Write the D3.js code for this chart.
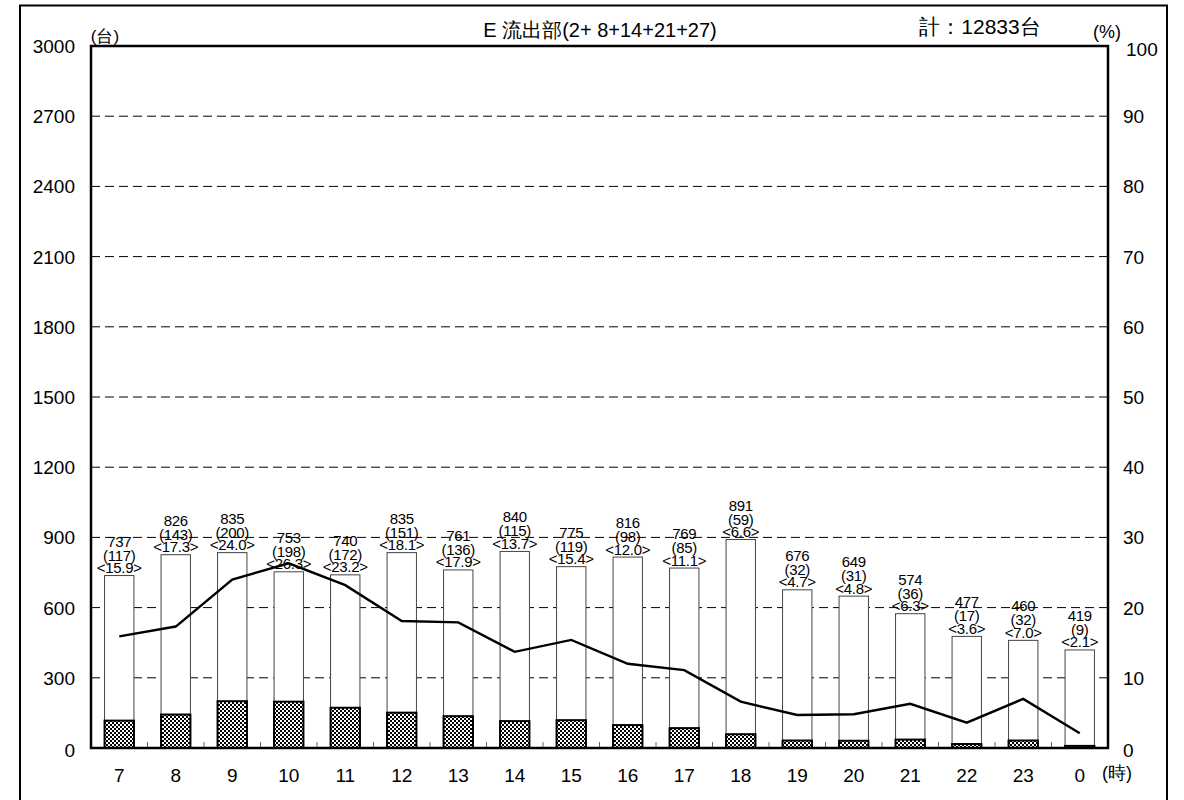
<!DOCTYPE html>
<html><head><meta charset="utf-8">
<script src="https://cdn.jsdelivr.net/npm/d3@7"></script>
<style>body{margin:0;background:#fff}svg{display:block}text{font-family:"Liberation Sans",Arial,sans-serif;fill:#000}</style>
</head><body><svg id="c" width="1184" height="800"></svg>
<script>
const hours = ["7","8","9","10","11","12","13","14","15","16","17","18","19","20","21","22","23","0"];
const totals = [737,826,835,753,740,835,761,840,775,816,769,891,676,649,574,477,460,419];
const heavy = [117,143,200,198,172,151,136,115,119,98,85,59,32,31,36,17,32,9];
const heavyPct = [15.9,17.3,24.0,26.3,23.2,18.1,17.9,13.7,15.4,12.0,11.1,6.6,4.7,4.8,6.3,3.6,7.0,2.1];
const leftTicks = [0,300,600,900,1200,1500,1800,2100,2400,2700,3000];
const rightTicks = [0,10,20,30,40,50,60,70,80,90,100];
const titleText = "E 流出部(2+ 8+14+21+27)";
const totalText = "計：12833台";

const svg = d3.select("#c");
const L = 91, R = 1108, T = 46, B = 748;
const FF = "'Liberation Sans', Arial, sans-serif";
const FJ = "'Liberation Sans', 'Noto Sans CJK JP', sans-serif";
const x = d3.scaleBand().domain(hours).range([L, R]).paddingInner(0).paddingOuter(0);
const y = d3.scaleLinear().domain([0, 3000]).range([B, T]);
const y2 = d3.scaleLinear().domain([0, 100]).range([B, T]);

// outer frame
svg.append("rect").attr("x", 20).attr("y", 5.5).attr("width", 1147).attr("height", 800)
  .attr("fill", "none").attr("stroke", "#000").attr("stroke-width", 2);

// pattern
const defs = svg.append("defs");
const p = defs.append("pattern").attr("id", "chk").attr("width", 4).attr("height", 4).attr("patternUnits", "userSpaceOnUse");
p.append("rect").attr("width", 4).attr("height", 4).attr("fill", "#000");
p.append("rect").attr("x", 0).attr("y", 0).attr("width", 2).attr("height", 2).attr("fill", "#fff");
p.append("rect").attr("x", 2).attr("y", 2).attr("width", 2).attr("height", 2).attr("fill", "#fff");

// gridlines
svg.append("g").selectAll("line").data(leftTicks.filter(d => d > 0 && d < 3000)).join("line")
  .attr("x1", L).attr("x2", R).attr("y1", d => y(d)).attr("y2", d => y(d))
  .attr("stroke", "#000").attr("stroke-width", 1).attr("stroke-dasharray", "9,5");

// bottom band ticks
svg.append("g").selectAll("line").data(hours.slice(1)).join("line")
  .attr("x1", d => x(d)).attr("x2", d => x(d)).attr("y1", B).attr("y2", B - 6)
  .attr("stroke", "#666").attr("stroke-width", 1);

const bw = x.bandwidth() * 0.52;
const bx = d => x(d) + (x.bandwidth() - bw) / 2;

// total bars
svg.append("g").selectAll("rect").data(hours).join("rect")
  .attr("x", d => bx(d)).attr("width", bw)
  .attr("y", (d, i) => y(totals[i])).attr("height", (d, i) => B - y(totals[i]))
  .attr("fill", "#fff").attr("stroke", "#444").attr("stroke-width", 1);

// heavy bars
svg.append("g").selectAll("rect").data(hours).join("rect")
  .attr("x", d => bx(d)).attr("width", bw)
  .attr("y", (d, i) => y(heavy[i])).attr("height", (d, i) => B - y(heavy[i]))
  .attr("fill", "url(#chk)").attr("stroke", "#000").attr("stroke-width", 2);

// line
const line = d3.line().x((d, i) => x(hours[i]) + x.bandwidth() / 2).y(d => y2(d));
svg.append("path").datum(heavyPct).attr("d", line).attr("fill", "none")
  .attr("stroke", "#000").attr("stroke-width", 2.4);

// labels
const lab = svg.append("g").attr("font-size", 15).attr("text-anchor", "middle")
  .attr("font-family", FF).attr("letter-spacing", "-0.3");
hours.forEach((h, i) => {
  const cx = x(h) + x.bandwidth() / 2, top = y(totals[i]);
  lab.append("text").attr("x", cx).attr("y", top - 29).text(totals[i]);
  lab.append("text").attr("x", cx).attr("y", top - 15).text("(" + heavy[i] + ")");
  lab.append("text").attr("x", cx).attr("y", top - 2.5).text("<" + heavyPct[i].toFixed(1) + ">");
});

// plot frame
svg.append("rect").attr("x", L).attr("y", T).attr("width", R - L).attr("height", B - T)
  .attr("fill", "none").attr("stroke", "#000").attr("stroke-width", 2.5);

// axes
const ax = d3.axisLeft(y).tickValues(leftTicks).tickFormat(d3.format("d")).tickSize(0).tickPadding(16);
const gL = svg.append("g").attr("transform", `translate(${L},0)`).call(ax);
gL.select(".domain").remove();
gL.selectAll("text").attr("font-size", 19).attr("font-family", FF)
  .attr("dy", d => d === 0 ? "0.45em" : "0.34em");

const ax2 = d3.axisRight(y2).tickValues(rightTicks).tickFormat(d3.format("d")).tickSize(0).tickPadding(15);
const gR = svg.append("g").attr("transform", `translate(${R},0)`).call(ax2);
gR.select(".domain").remove();
gR.selectAll("text").attr("font-size", 19).attr("font-family", FF)
  .attr("dx", d => d === 100 ? 3 : 0)
  .attr("dy", d => d === 100 ? "0.5em" : d === 0 ? "0.45em" : "0.34em");

const axB = d3.axisBottom(x).tickSize(0).tickPadding(21);
const gB = svg.append("g").attr("transform", `translate(0,${B})`).call(axB);
gB.select(".domain").remove();
gB.selectAll("text").attr("font-size", 19).attr("font-family", FF);

// titles
svg.append("text").attr("x", 600).attr("y", 37).attr("text-anchor", "middle").attr("font-size", 20)
  .attr("font-family", FJ).text(titleText);
svg.append("text").attr("x", 980).attr("y", 34).attr("text-anchor", "middle").attr("font-size", 21)
  .attr("font-family", FJ).text(totalText);
svg.append("text").attr("x", 105).attr("y", 42).attr("text-anchor", "middle").attr("font-size", 17)
  .attr("font-family", "'Noto Sans CJK JP', sans-serif").text("(台)");
svg.append("text").attr("x", 1107).attr("y", 38).attr("text-anchor", "middle").attr("font-size", 18)
  .attr("font-family", FF).text("(%)");
svg.append("text").attr("x", 1117).attr("y", 779).attr("text-anchor", "middle").attr("font-size", 18)
  .attr("font-family", "'Noto Sans CJK JP', sans-serif").text("(時)");
</script></body></html>
